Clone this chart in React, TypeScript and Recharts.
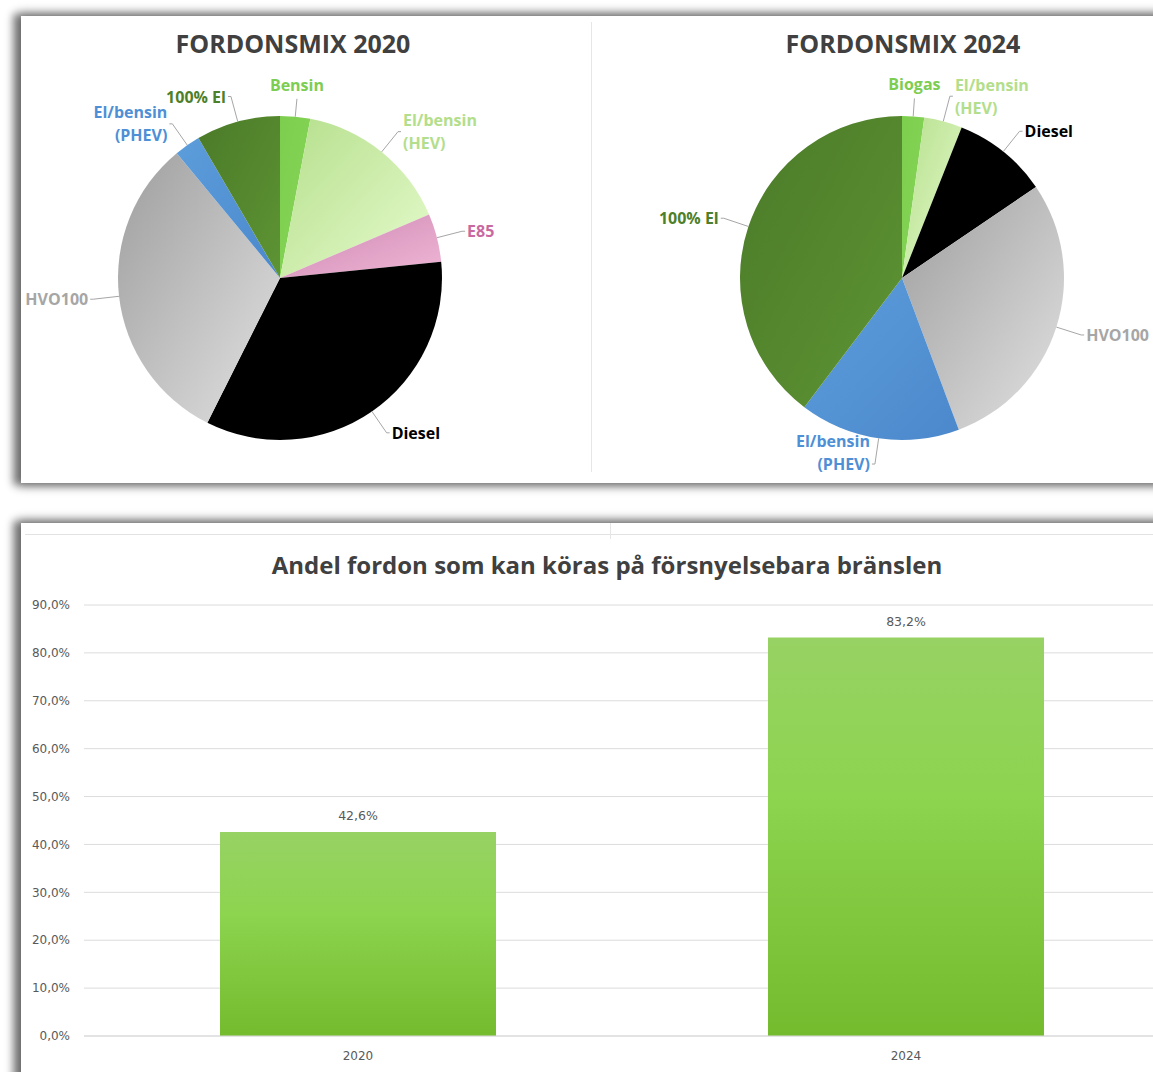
import { Bar, BarChart, CartesianGrid, Cell, LabelList, Pie, PieChart, XAxis, YAxis } from "recharts";

// fordonsmix, andel av flottan (%), medsols från kl 12
const FUELS_2020 = ["Bensin", "El/bensin (HEV)", "E85", "Diesel", "HVO100", "El/bensin (PHEV)", "100% El"];
const SHARE_2020 = [3.0, 15.6, 4.8, 34.0, 31.6, 2.6, 8.4];
const FUELS_2024 = ["Biogas", "El/bensin (HEV)", "Diesel", "HVO100", "El/bensin (PHEV)", "100% El"];
const SHARE_2024 = [2.2, 3.8, 9.5, 28.8, 16.0, 39.7];

// andel fordon som kan köras på förnybart
const YEARS = ["2020", "2024"];
const RENEWABLE = [42.6, 83.2];
const Y_TICKS = [0, 10, 20, 30, 40, 50, 60, 70, 80, 90];

const FONT = "'Open Sans', Lato, sans-serif";
const AXIS_FONT = "'DejaVu Sans', Verdana, sans-serif";
const TITLE = "#404040";
const AXIS_TEXT = "#595959";

const SLICE: Record<string, { from: string; to: string; label: string }> = {
  Bensin: { from: "#7dce4e", to: "#86d459", label: "#7dcd50" },
  Biogas: { from: "#7dce4e", to: "#86d459", label: "#7dcd50" },
  "El/bensin (HEV)": { from: "#b5df8c", to: "#e6fbcd", label: "#b3de8b" },
  E85: { from: "#cc86b1", to: "#f0b7d6", label: "#c9699f" },
  Diesel: { from: "#000000", to: "#000000", label: "#000000" },
  HVO100: { from: "#9e9e9e", to: "#e2e2e2", label: "#a6a6a6" },
  "El/bensin (PHEV)": { from: "#5c9ddb", to: "#4b88cc", label: "#4f8fd6" },
  "100% El": { from: "#4b7a28", to: "#5e9434", label: "#4e7f2a" },
};

const RAD = Math.PI / 180;

function sliceLabel(p: any) {
  const { cx, cy, midAngle, outerRadius, name } = p;
  const cos = Math.cos(-midAngle * RAD);
  const sin = Math.sin(-midAngle * RAD);
  const anchor = cos > 0.1 ? "start" : cos < -0.1 ? "end" : "middle";
  const ext = anchor === "middle" ? 18 : 26;
  const x0 = cx + outerRadius * cos;
  const y0 = cy + outerRadius * sin;
  const x1 = cx + (outerRadius + ext) * cos;
  const y1 = cy + (outerRadius + ext) * sin;
  const tx = anchor === "start" ? x1 + 5 : anchor === "end" ? x1 - 5 : x1;
  const lines: string[] = name.includes(" (") ? [name.split(" (")[0], "(" + name.split(" (")[1]] : [name];
  const lh = 23;
  let first: number;
  if (anchor === "middle") first = sin < 0 ? y1 - 8 - (lines.length - 1) * lh : y1 + 18;
  else if (lines.length > 1 && sin > 0) first = y1 - lh + 6;
  else first = y1 - ((lines.length - 1) * lh) / 2 + 6;
  const hx = anchor === "start" ? x1 + 3 : anchor === "end" ? x1 - 3 : x1;
  return (
    <g>
      <polyline points={`${x0},${y0} ${x1},${y1} ${hx},${y1}`} fill="none" stroke="#a6a6a6" strokeWidth={1} />
      <text x={tx} y={first} textAnchor={anchor} fill={SLICE[name].label} fontFamily={FONT} fontWeight={700} fontSize={16}>
        {lines.map((l, i) => (
          <tspan key={i} x={tx} y={first + i * lh}>
            {l}
          </tspan>
        ))}
      </text>
    </g>
  );
}

function FuelPie({ id, names, values, width, cx }: { id: string; names: string[]; values: number[]; width: number; cx: number }) {
  const data = names.map((name, i) => ({ name, value: values[i] }));
  return (
    <PieChart width={width} height={483} margin={{ top: 0, right: 0, bottom: 0, left: 0 }}>
      <defs>
        {names.map((n, i) => (
          <linearGradient key={n} id={`${id}-${i}`} x1="0" y1="0" x2="1" y2="1">
            <stop offset="0%" stopColor={SLICE[n].from} />
            <stop offset="100%" stopColor={SLICE[n].to} />
          </linearGradient>
        ))}
      </defs>
      <Pie
        data={data}
        dataKey="value"
        nameKey="name"
        cx={cx}
        cy={278}
        outerRadius={162}
        startAngle={90}
        endAngle={-270}
        stroke="none"
        label={sliceLabel}
        labelLine={false}
        isAnimationActive={false}
      >
        {names.map((n, i) => (
          <Cell key={n} fill={`url(#${id}-${i})`} />
        ))}
      </Pie>
    </PieChart>
  );
}

const panel = {
  position: "absolute" as const,
  left: 21,
  width: 1150,
  background: "#fff",
  boxShadow: "-6px 0 8px 2px rgba(0,0,0,0.42), 0 0 10px 3px rgba(0,0,0,0.35)",
};

const pieTitle = {
  position: "absolute" as const,
  top: 26,
  width: 400,
  textAlign: "center" as const,
  fontSize: 25,
  fontWeight: 700,
  color: TITLE,
};

export default function App() {
  const barData = YEARS.map((year, i) => ({ year, share: RENEWABLE[i] }));
  const pct = (v: number) => v.toFixed(1).replace(".", ",") + "%";
  return (
    <div style={{ position: "absolute", left: 0, top: 0, width: 1153, height: 1072, overflow: "hidden", background: "#fff", fontFamily: FONT }}>
      <div style={{ ...panel, top: 16, height: 467 }} />
      <div style={{ ...panel, top: 523, height: 600 }} />

      {/* fordonsmix */}
      <div style={{ position: "absolute", left: 591, top: 22, width: 1, height: 450, background: "#e6e6e6" }} />
      <div style={{ ...pieTitle, left: 93 }}>FORDONSMIX 2020</div>
      <div style={{ ...pieTitle, left: 703 }}>FORDONSMIX 2024</div>
      <div style={{ position: "absolute", left: 0, top: 0 }}>
        <FuelPie id="p20" names={FUELS_2020} values={SHARE_2020} width={590} cx={280} />
      </div>
      <div style={{ position: "absolute", left: 591, top: 0 }}>
        <FuelPie id="p24" names={FUELS_2024} values={SHARE_2024} width={562} cx={311} />
      </div>

      {/* andel förnybart */}
      <div style={{ position: "absolute", left: 25, top: 534, width: 1128, height: 1, background: "#e2e2e2" }} />
      <div style={{ position: "absolute", left: 610, top: 523, width: 1, height: 16, background: "#e6e6e6" }} />
      <div style={{ position: "absolute", left: 21, top: 548, width: 1172, textAlign: "center", fontSize: 24, fontWeight: 700, color: TITLE }}>
        Andel fordon som kan köras på försnyelsebara bränslen
      </div>
      <div style={{ position: "absolute", left: 0, top: 530 }}>
        <BarChart width={1190} height={542} data={barData} margin={{ top: 75, right: 10, bottom: 6, left: 0 }}>
          <defs>
            <linearGradient id="barFill" x1="0" y1="0" x2="0" y2="1">
              <stop offset="0%" stopColor="#97d264" />
              <stop offset="40%" stopColor="#8dd44f" />
              <stop offset="100%" stopColor="#74bb2e" />
            </linearGradient>
          </defs>
          <CartesianGrid vertical={false} stroke="#dcdcdc" />
          <XAxis
            dataKey="year"
            axisLine={{ stroke: "#d9d9d9" }}
            tickLine={false}
            tick={{ fill: AXIS_TEXT, fontSize: 12, fontFamily: AXIS_FONT }}
            tickMargin={9}
            height={30}
          />
          <YAxis
            domain={[0, 90]}
            ticks={Y_TICKS}
            tickFormatter={pct}
            axisLine={false}
            tickLine={false}
            tick={{ fill: AXIS_TEXT, fontSize: 12, fontFamily: AXIS_FONT }}
            tickMargin={8}
            width={84}
          />
          <Bar dataKey="share" fill="url(#barFill)" barSize={276} isAnimationActive={false}>
            <LabelList
              dataKey="share"
              position="top"
              offset={12}
              formatter={(v: any) => pct(Number(v))}
              fill={AXIS_TEXT}
              fontSize={12.5}
              fontFamily={AXIS_FONT}
            />
          </Bar>
        </BarChart>
      </div>
    </div>
  );
}
